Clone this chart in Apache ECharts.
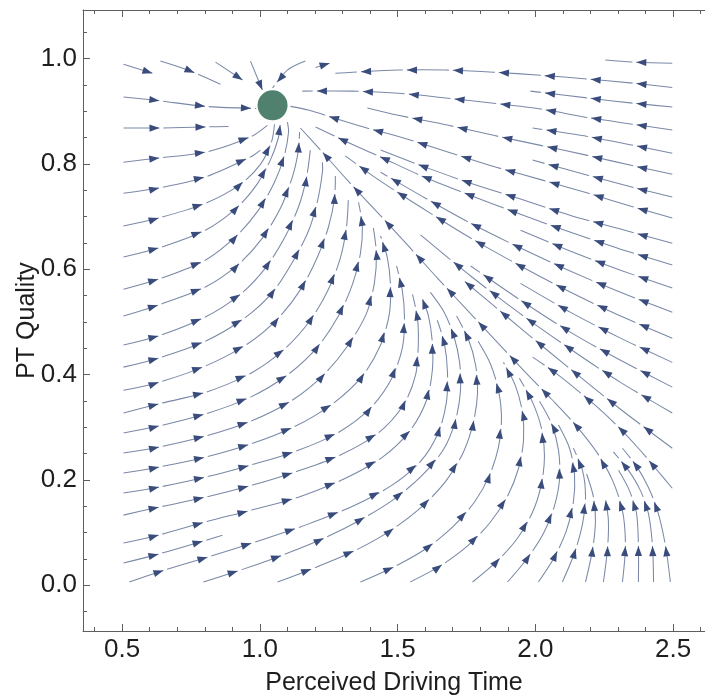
<!DOCTYPE html>
<html>
<head>
<meta charset="utf-8">
<script src="https://cdn.jsdelivr.net/npm/echarts@6/dist/echarts.min.js"></script>
<style>
html,body{margin:0;padding:0;background:#ffffff;}
#chart{width:705px;height:697px;}
</style>
</head>
<body>
<div id="chart"></div>
<script>
// ---------- axis ticks / labels ----------
const xMajorTicks = [0.5, 1.0, 1.5, 2.0, 2.5];
const xMinorTicks = [0.4, 0.6, 0.7, 0.8, 0.9, 1.1, 1.2, 1.3, 1.4, 1.6, 1.7, 1.8, 1.9, 2.1, 2.2, 2.3, 2.4, 2.6];
const yMajorTicks = [0.0, 0.2, 0.4, 0.6, 0.8, 1.0];
const yMinorTicks = [-0.05, 0.05, 0.1, 0.15, 0.25, 0.3, 0.35, 0.45, 0.5, 0.55, 0.65, 0.7, 0.75, 0.85, 0.9, 0.95, 1.05];
const xTitle = 'Perceived Driving Time';
const yTitle = 'PT Quality';

// ---------- equilibrium point ----------
const equilibrium = [[1.046, 0.911]];

// ---------- streamlines (data coordinates) ----------
// upper-left lines flowing right into the equilibrium
const streamsTopLeft = [
  [[0.505,0.989],[0.610,0.972]],
  [[0.639,0.995],[0.748,0.976],[0.857,0.951]],
  [[0.839,0.993],[0.937,0.959]],
  [[0.966,0.995],[1.009,0.940]],
  [[1.165,0.995],[1.100,0.978],[1.046,0.944]],
  [[1.202,0.983],[1.253,0.991]],
  [[0.505,0.927],[0.632,0.920],[0.802,0.909],[0.987,0.905]],
  [[0.505,0.868],[0.632,0.868],[0.802,0.870],[0.886,0.871]],
  [[0.505,0.803],[0.632,0.811],[0.802,0.822],[0.966,0.851],[1.027,0.873]],
  [[0.505,0.744],[0.632,0.754],[0.802,0.775],[0.966,0.813],[1.002,0.826]]
];

// left-edge lines curving upward (nested arcs)
const streamsArcs = [
  [[0.505,0.682],[0.632,0.697],[0.802,0.725],[0.929,0.761],[1.002,0.799],[1.042,0.841],[1.053,0.875]],
  [[0.505,0.623],[0.632,0.640],[0.802,0.674],[0.915,0.716],[0.987,0.759],[1.038,0.807],[1.067,0.849],[1.075,0.879]],
  [[0.505,0.562],[0.632,0.581],[0.802,0.617],[0.915,0.663],[0.995,0.712],[1.053,0.765],[1.089,0.816],[1.104,0.860],[1.100,0.879]],
  [[0.505,0.511],[0.632,0.532],[0.802,0.566],[0.922,0.609],[1.009,0.659],[1.075,0.716],[1.118,0.775],[1.140,0.826],[1.144,0.860]],
  [[0.505,0.456],[0.632,0.473],[0.802,0.509],[0.929,0.552],[1.020,0.602],[1.089,0.659],[1.140,0.718],[1.169,0.773],[1.183,0.826]],
  [[0.505,0.414],[0.632,0.431],[0.802,0.463],[0.944,0.507],[1.046,0.556],[1.118,0.613],[1.176,0.672],[1.209,0.729],[1.227,0.784],[1.227,0.803]],
  [[0.505,0.370],[0.632,0.385],[0.802,0.416],[0.955,0.458],[1.067,0.507],[1.151,0.564],[1.209,0.623],[1.249,0.680],[1.271,0.735],[1.274,0.777]],
  [[0.505,0.327],[0.632,0.344],[0.802,0.366],[0.966,0.402],[1.089,0.448],[1.183,0.503],[1.249,0.562],[1.292,0.621],[1.314,0.678],[1.321,0.731]],
  [[0.505,0.289],[0.632,0.302],[0.802,0.325],[0.966,0.357],[1.100,0.399],[1.209,0.452],[1.285,0.511],[1.336,0.571],[1.365,0.630],[1.372,0.682],[1.358,0.727]],
  [[0.505,0.251],[0.632,0.262],[0.802,0.283],[0.966,0.311],[1.111,0.349],[1.231,0.399],[1.321,0.456],[1.387,0.516],[1.416,0.575],[1.423,0.630],[1.412,0.678]],
  [[0.505,0.213],[0.632,0.224],[0.802,0.243],[0.966,0.268],[1.122,0.300],[1.263,0.344],[1.372,0.397],[1.438,0.456],[1.470,0.515],[1.474,0.570],[1.463,0.621],[1.438,0.663]],
  [[0.505,0.175],[0.632,0.186],[0.802,0.205],[0.966,0.228],[1.129,0.254],[1.285,0.290],[1.401,0.336],[1.477,0.391],[1.517,0.450],[1.525,0.507],[1.517,0.560],[1.496,0.606]],
  [[0.505,0.133],[0.632,0.148],[0.802,0.167],[0.973,0.190],[1.129,0.215],[1.292,0.247],[1.430,0.289],[1.521,0.342],[1.565,0.399],[1.575,0.456],[1.572,0.507],[1.554,0.552]],
  [[0.505,0.080],[0.632,0.095],[0.802,0.120],[0.966,0.142],[1.140,0.167],[1.303,0.201],[1.445,0.243],[1.546,0.294],[1.605,0.351],[1.626,0.408],[1.626,0.461],[1.612,0.511],[1.586,0.549]],
  [[0.505,0.042],[0.632,0.059],[0.802,0.085],[0.864,0.095]],
  [[0.526,0.006],[0.650,0.028],[0.821,0.055],[0.995,0.084],[1.165,0.114],[1.329,0.148],[1.474,0.188],[1.583,0.235],[1.648,0.290],[1.677,0.347],[1.681,0.404],[1.670,0.458],[1.644,0.503]]
];

// lines rising from the bottom edge
const streamsBottom = [
  [[0.795,0.006],[0.937,0.030],[1.082,0.057],[1.224,0.087],[1.358,0.122],[1.481,0.161],[1.586,0.207],[1.667,0.258],[1.710,0.313],[1.728,0.368],[1.725,0.423],[1.703,0.475],[1.667,0.520],[1.619,0.556]],
  [[1.064,0.006],[1.213,0.036],[1.354,0.068],[1.481,0.106],[1.590,0.150],[1.677,0.199],[1.739,0.253],[1.775,0.309],[1.790,0.365],[1.783,0.418],[1.757,0.467],[1.714,0.511]],
  [[1.365,0.006],[1.492,0.036],[1.605,0.070],[1.699,0.110],[1.779,0.158],[1.834,0.209],[1.866,0.262],[1.877,0.317],[1.866,0.370],[1.837,0.420],[1.790,0.465]],
  [[1.546,0.006],[1.659,0.038],[1.757,0.076],[1.837,0.120],[1.899,0.169],[1.939,0.222],[1.957,0.275],[1.953,0.328],[1.928,0.378],[1.884,0.423]],
  [[1.772,0.006],[1.862,0.046],[1.935,0.089],[1.990,0.139],[2.022,0.192],[2.033,0.245],[2.022,0.298],[1.990,0.347],[1.942,0.393]],
  [[1.899,0.006],[1.971,0.051],[2.030,0.099],[2.069,0.150],[2.088,0.203],[2.084,0.256],[2.059,0.306],[2.015,0.349]],
  [[2.011,0.006],[2.069,0.053],[2.113,0.104],[2.138,0.158],[2.142,0.211],[2.124,0.260],[2.084,0.304]],
  [[2.098,0.006],[2.142,0.061],[2.171,0.116],[2.182,0.169],[2.171,0.218],[2.138,0.260]],
  [[2.182,0.006],[2.207,0.066],[2.218,0.120],[2.211,0.167],[2.186,0.211]],
  [[2.247,0.006],[2.262,0.070],[2.265,0.123],[2.254,0.165]],
  [[2.316,0.006],[2.327,0.076],[2.316,0.142],[2.280,0.199],[2.222,0.253],[2.146,0.304],[2.059,0.353],[1.964,0.404],[1.862,0.461],[1.757,0.520],[1.648,0.581],[1.539,0.644],[1.430,0.706],[1.321,0.767],[1.224,0.824],[1.147,0.868]],
  [[2.374,0.006],[2.374,0.076],[2.367,0.137],[2.341,0.180],[2.302,0.218]],
  [[2.429,0.006],[2.425,0.076],[2.410,0.137],[2.381,0.180],[2.338,0.218],[2.283,0.253]],
  [[2.490,0.006],[2.472,0.076],[2.443,0.142],[2.410,0.186],[2.367,0.226],[2.316,0.260]]
];

// lines entering from the right edge, flowing up-left
const streamsUpper = [
  [[2.497,0.991],[2.356,0.993],[2.254,0.997]],
  [[2.497,0.945],[2.356,0.953],[2.189,0.961],[2.019,0.968],[1.848,0.974],[1.674,0.978],[1.503,0.978],[1.336,0.974],[1.274,0.972]],
  [[2.497,0.908],[2.356,0.915],[2.189,0.925],[1.982,0.938]],
  [[2.497,0.864],[2.356,0.875],[2.189,0.888],[2.019,0.904],[1.848,0.915],[1.674,0.925],[1.503,0.934],[1.336,0.938],[1.154,0.938]],
  [[2.497,0.820],[2.356,0.835],[2.189,0.852],[1.990,0.868]],
  [[2.497,0.780],[2.356,0.796],[2.189,0.816],[2.019,0.835],[1.848,0.854],[1.685,0.873],[1.503,0.892],[1.390,0.906]],
  [[2.497,0.737],[2.363,0.754],[2.193,0.778],[1.990,0.807]],
  [[2.497,0.697],[2.356,0.718],[2.193,0.744],[2.026,0.769],[1.855,0.794],[1.685,0.822],[1.521,0.849],[1.354,0.873],[1.176,0.902],[1.111,0.909]],
  [[2.497,0.649],[2.309,0.676],[2.128,0.702],[1.946,0.733],[1.765,0.763],[1.583,0.797],[1.438,0.826]],
  [[2.497,0.608],[2.309,0.638],[2.128,0.670],[1.946,0.704],[1.765,0.740],[1.583,0.778],[1.438,0.813],[1.310,0.843],[1.202,0.870]],
  [[2.497,0.564],[2.309,0.598],[2.128,0.634],[1.946,0.674]],
  [[2.497,0.518],[2.309,0.556],[2.128,0.596],[1.946,0.640],[1.765,0.687],[1.583,0.740],[1.438,0.784]],
  [[2.497,0.469],[2.309,0.511],[2.128,0.556],[1.946,0.606],[1.765,0.659],[1.583,0.718],[1.438,0.767],[1.310,0.815]],
  [[2.497,0.423],[2.309,0.469],[2.128,0.518],[1.946,0.573]],
  [[2.497,0.376],[2.309,0.427],[2.128,0.480],[1.946,0.541],[1.765,0.606]],
  [[2.497,0.327],[2.309,0.385],[2.128,0.448],[1.946,0.515],[1.765,0.587],[1.583,0.665]],
  [[2.497,0.260],[2.309,0.334],[2.128,0.410],[1.946,0.488],[1.837,0.536],[1.736,0.580]],
  [[2.497,0.184],[2.436,0.222],[2.374,0.260],[2.302,0.300],[2.229,0.336],[2.157,0.368],[2.073,0.403],[1.990,0.433]]
];

const allStreams = [].concat(streamsTopLeft, streamsArcs, streamsBottom, streamsUpper);

// ---------- styling ----------
const LINE_COLOR = '#7a89a8';
const ARROW_COLOR = '#394c7c';
const FRAME_COLOR = '#5e5e5e';
const TEXT_COLOR = '#1e1e1e';
const FONT = '"Liberation Sans", Arial, sans-serif';
const ARROW_FIRST = 36, ARROW_STEP = 46, ARROW_LEN = 10, ARROW_HALF = 3.6, GAP = 4;

function renderStream(params, api) {
  const line = allStreams[params.dataIndex];
  const pts = line.map(p => api.coord(p));
  const children = [{
    type: 'polyline',
    shape: { points: pts, smooth: 0.3 },
    style: {
      stroke: LINE_COLOR, lineWidth: 1.05, fill: null,
      lineDash: [ARROW_STEP - GAP, GAP], lineDashOffset: ARROW_STEP - GAP - ARROW_FIRST
    },
    silent: true
  }];
  const cum = [0];
  for (let i = 1; i < pts.length; i++) {
    cum.push(cum[i - 1] + Math.hypot(pts[i][0] - pts[i - 1][0], pts[i][1] - pts[i - 1][1]));
  }
  const total = cum[cum.length - 1];
  const marks = [];
  for (let s = ARROW_FIRST; s <= total - 2; s += ARROW_STEP) marks.push(s);
  if (!marks.length) marks.push(total);
  marks.forEach(s => {
    let i = 1;
    while (i < cum.length - 1 && cum[i] < s) i++;
    const seg = (cum[i] - cum[i - 1]) || 1;
    const t = Math.min(1, Math.max(0, (s - cum[i - 1]) / seg));
    const x = pts[i - 1][0] + t * (pts[i][0] - pts[i - 1][0]);
    const y = pts[i - 1][1] + t * (pts[i][1] - pts[i - 1][1]);
    const ux = (pts[i][0] - pts[i - 1][0]) / seg;
    const uy = (pts[i][1] - pts[i - 1][1]) / seg;
    const bx = x - ux * ARROW_LEN, by = y - uy * ARROW_LEN;
    children.push({
      type: 'polygon',
      shape: { points: [[x, y], [bx - uy * ARROW_HALF, by + ux * ARROW_HALF], [bx + uy * ARROW_HALF, by - ux * ARROW_HALF]] },
      style: { fill: ARROW_COLOR },
      silent: true
    });
  });
  return { type: 'group', children: children };
}

// plot frame: left edge at 0.358, ~275.5 px per unit; the right frame lies beyond the picture
const X_MIN = 0.358, X_MAX = 2.6157, Y_MIN = -0.087, Y_MAX = 1.092;
const labelStyle = { fontSize: 26, color: TEXT_COLOR, fontFamily: FONT };

function xAx(pos, ticks, len, showLine, showLabel, extra) {
  return Object.assign({
    type: 'value', min: X_MIN, max: X_MAX, position: pos,
    axisLine: { show: showLine, onZero: false, lineStyle: { color: FRAME_COLOR, width: 1 } },
    axisTick: { show: true, inside: true, length: len, customValues: ticks, lineStyle: { color: FRAME_COLOR, width: 1 } },
    axisLabel: Object.assign({ show: showLabel, customValues: xMajorTicks, formatter: v => Number(v).toFixed(1), margin: 6 }, labelStyle),
    splitLine: { show: false }
  }, extra || {});
}
function yAx(pos, ticks, len, showLine, showLabel, extra) {
  return Object.assign({
    type: 'value', min: Y_MIN, max: Y_MAX, position: pos,
    axisLine: { show: showLine, onZero: false, lineStyle: { color: FRAME_COLOR, width: 1 } },
    axisTick: { show: true, inside: true, length: len, customValues: ticks, lineStyle: { color: FRAME_COLOR, width: 1 } },
    axisLabel: Object.assign({ show: showLabel, customValues: yMajorTicks, formatter: v => Number(v).toFixed(1), margin: 6 }, labelStyle),
    splitLine: { show: false }
  }, extra || {});
}

const chart = echarts.init(document.getElementById('chart'));
chart.setOption({
  animation: false,
  backgroundColor: '#ffffff',
  grid: { left: 83, top: 10, right: 0, height: 621, containLabel: false, outerBoundsMode: 'none' },
  xAxis: [
    xAx('bottom', xMajorTicks, 7, true, true, {
      name: xTitle, nameLocation: 'middle', nameGap: 40, nameMoveOverlap: false,
      nameTextStyle: { fontSize: 25, color: TEXT_COLOR, fontFamily: FONT }
    }),
    xAx('bottom', xMinorTicks, 4, false, false),
    xAx('top', xMajorTicks, 7, true, false),
    xAx('top', xMinorTicks, 4, false, false)
  ],
  yAxis: [
    yAx('left', yMajorTicks, 7, true, true, {
      name: yTitle, nameLocation: 'middle', nameGap: 43, nameRotate: 90, nameMoveOverlap: false,
      nameTextStyle: { fontSize: 25, color: TEXT_COLOR, fontFamily: FONT }
    }),
    yAx('left', yMinorTicks, 4, false, false)
  ],
  series: [
    {
      type: 'custom',
      xAxisIndex: 0, yAxisIndex: 0,
      renderItem: renderStream,
      data: allStreams.map(l => [l[0][0], l[0][1]]),
      encode: { x: 0, y: 1 },
      clip: true,
      z: 2,
      silent: true
    },
    {
      type: 'scatter',
      xAxisIndex: 0, yAxisIndex: 0,
      data: equilibrium,
      symbol: 'circle',
      symbolSize: 30,
      itemStyle: { color: '#24604a' },
      z: 5,
      silent: true
    }
  ]
});
</script>
</body>
</html>
